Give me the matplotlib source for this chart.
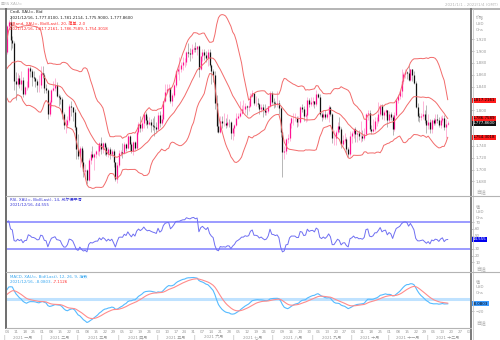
import numpy as np
import pandas as pd
import matplotlib
matplotlib.use('Agg')
import matplotlib.pyplot as plt
from matplotlib.lines import Line2D

plt.rcParams['font.family'] = ['DejaVu Sans', 'Noto Sans CJK SC']

W, H = 500, 340

# closes of Oct-Dec 2020, only used to warm up the indicators
warmup_closes = [
    1906, 1899, 1913, 1877, 1887, 1894, 1930, 1922, 1891, 1902, 1908, 1899, 1905, 1907, 1924, 1904, 1902, 1902, 1908, 1877, 1868, 1879,
    1895, 1908, 1904, 1949, 1951, 1862, 1877, 1866, 1877, 1888, 1888, 1879, 1872, 1861, 1871, 1837, 1805, 1811, 1812, 1788, 1777,
    1815, 1831, 1841, 1839, 1862, 1870, 1839, 1837, 1839, 1828, 1854, 1864, 1886, 1881, 1872, 1863, 1871, 1877, 1876, 1877, 1878, 1894, 1898,
]

# daily XAU= bid candles, 2021-01-04 .. 2021-12-16 (one row per month)
opens = [
    1898, 1943, 1950, 1918, 1913, 1849, 1844, 1855, 1845, 1851, 1828, 1839, 1840, 1871, 1866, 1856, 1855, 1850, 1842, 1843,
    1863, 1860, 1837, 1834, 1793, 1814, 1834, 1838, 1842, 1825, 1823, 1819, 1794, 1775, 1775, 1784, 1808, 1805, 1797, 1771,
    1734, 1723, 1737, 1713, 1697, 1700, 1683, 1716, 1726, 1722, 1727, 1731, 1731, 1745, 1735, 1745, 1738, 1726, 1734, 1726, 1732, 1712, 1684,
    1707, 1728, 1729, 1728, 1743, 1737, 1756, 1743, 1732, 1746, 1736, 1764, 1777, 1770, 1778, 1793, 1783, 1777, 1780, 1776, 1773, 1771,
    1768, 1792, 1778, 1785, 1815, 1831, 1836, 1837, 1815, 1826, 1843, 1867, 1869, 1869, 1876, 1881, 1881, 1898, 1896, 1895, 1903,
    1906, 1903, 1908, 1870, 1891, 1899, 1893, 1888, 1899, 1877, 1866, 1859, 1812, 1773, 1764, 1782, 1778, 1779, 1776, 1781, 1780, 1761,
    1770, 1776, 1787, 1791, 1796, 1803, 1803, 1808, 1806, 1808, 1824, 1829, 1812, 1812, 1810, 1803, 1806, 1801, 1797, 1799, 1807, 1829,
    1814, 1813, 1810, 1812, 1804, 1763, 1729, 1732, 1752, 1753, 1779, 1787, 1787, 1787, 1781, 1781, 1805, 1803, 1790, 1792, 1818, 1810,
    1814, 1815, 1810, 1827, 1823, 1794, 1788, 1794, 1788, 1794, 1805, 1794, 1754, 1754, 1764, 1774, 1768, 1743, 1750, 1751, 1734, 1726,
    1757, 1761, 1769, 1760, 1762, 1756, 1757, 1754, 1760, 1793, 1796, 1768, 1765, 1769, 1782, 1782, 1793, 1807, 1792, 1798, 1800,
    1783, 1793, 1788, 1769, 1792, 1818, 1825, 1832, 1850, 1862, 1865, 1863, 1851, 1869, 1859, 1846, 1805, 1790, 1789, 1791, 1793, 1784,
    1775, 1781, 1769, 1783, 1779, 1785, 1783, 1775, 1783, 1787, 1771, 1777.01,
]
highs = [
    1944, 1952, 1959, 1926, 1917, 1864, 1863, 1860, 1866, 1856, 1841, 1850, 1873, 1875, 1870, 1867, 1857, 1853, 1859, 1875,
    1875, 1863, 1845, 1836, 1818, 1836, 1849, 1855, 1848, 1828, 1826, 1823, 1797, 1786, 1790, 1811, 1816, 1806, 1802, 1774,
    1760, 1740, 1739, 1733, 1709, 1701, 1719, 1731, 1739, 1728, 1733, 1741, 1747, 1755, 1746, 1746, 1742, 1738, 1738, 1734, 1734, 1713, 1713,
    1733, 1733, 1744, 1746, 1745, 1759, 1758, 1746, 1748, 1749, 1766, 1781, 1790, 1784, 1797, 1798, 1790, 1789, 1786, 1787, 1790, 1780,
    1798, 1799, 1793, 1816, 1844, 1845, 1844, 1839, 1830, 1845, 1868, 1875, 1890, 1882, 1890, 1889, 1900, 1913, 1906, 1912, 1909,
    1916, 1909, 1910, 1892, 1903, 1903, 1900, 1903, 1903, 1878, 1870, 1866, 1826, 1795, 1790, 1791, 1795, 1787, 1794, 1785, 1782, 1771,
    1777, 1795, 1796, 1815, 1809, 1818, 1812, 1809, 1815, 1829, 1834, 1830, 1825, 1821, 1812, 1810, 1810, 1810, 1804, 1808, 1832, 1832,
    1821, 1815, 1832, 1817, 1806, 1764, 1740, 1754, 1760, 1781, 1789, 1795, 1795, 1791, 1790, 1808, 1810, 1807, 1796, 1823, 1820, 1822,
    1823, 1816, 1834, 1829, 1827, 1797, 1800, 1801, 1797, 1809, 1808, 1796, 1767, 1767, 1780, 1788, 1771, 1758, 1762, 1755, 1738, 1765,
    1765, 1770, 1772, 1765, 1767, 1782, 1766, 1770, 1796, 1801, 1800, 1775, 1785, 1788, 1789, 1814, 1810, 1810, 1801, 1803, 1801,
    1799, 1797, 1792, 1797, 1819, 1828, 1833, 1869, 1865, 1870, 1867, 1877, 1870, 1870, 1866, 1849, 1812, 1795, 1796, 1815, 1800, 1809,
    1793, 1785, 1786, 1787, 1793, 1793, 1789, 1791, 1792, 1792, 1785, 1781.2114,
]
lows = [
    1895, 1935, 1902, 1905, 1835, 1817, 1841, 1837, 1835, 1822, 1826, 1834, 1837, 1857, 1841, 1850, 1840, 1831, 1831, 1838,
    1855, 1830, 1829, 1785, 1791, 1806, 1832, 1833, 1823, 1808, 1811, 1786, 1768, 1761, 1770, 1780, 1790, 1782, 1767, 1717,
    1718, 1705, 1711, 1687, 1687, 1676, 1681, 1709, 1719, 1699, 1719, 1725, 1723, 1727, 1728, 1724, 1723, 1721, 1718, 1722, 1705, 1680, 1677,
    1705, 1723, 1720, 1726, 1732, 1735, 1731, 1728, 1725, 1733, 1735, 1760, 1764, 1765, 1770, 1776, 1770, 1775, 1764, 1767, 1756, 1763,
    1767, 1771, 1776, 1782, 1814, 1828, 1822, 1813, 1808, 1823, 1840, 1862, 1852, 1865, 1868, 1873, 1877, 1890, 1884, 1889, 1898,
    1898, 1893, 1856, 1868, 1883, 1885, 1881, 1875, 1874, 1845, 1848, 1802, 1764, 1761, 1761, 1770, 1774, 1770, 1772, 1772, 1751, 1750,
    1757, 1774, 1785, 1789, 1793, 1795, 1796, 1792, 1799, 1806, 1822, 1809, 1808, 1806, 1794, 1797, 1789, 1792, 1792, 1795, 1805, 1810,
    1804, 1806, 1806, 1794, 1755, 1687, 1718, 1727, 1744, 1749, 1770, 1775, 1782, 1772, 1774, 1778, 1797, 1782, 1780, 1782, 1806, 1808,
    1807, 1804, 1808, 1820, 1791, 1782, 1786, 1785, 1785, 1781, 1791, 1745, 1742, 1742, 1760, 1764, 1737, 1740, 1746, 1726, 1721, 1723,
    1745, 1754, 1747, 1746, 1750, 1746, 1749, 1750, 1758, 1784, 1765, 1760, 1763, 1765, 1774, 1778, 1790, 1785, 1783, 1790, 1772,
    1780, 1783, 1758, 1765, 1790, 1813, 1819, 1823, 1845, 1855, 1853, 1849, 1850, 1850, 1845, 1804, 1782, 1781, 1784, 1785, 1778, 1762,
    1769, 1762, 1762, 1776, 1776, 1778, 1772, 1770, 1780, 1766, 1753, 1775.90,
]
closes = [
    1943, 1950, 1918, 1913, 1849, 1844, 1855, 1845, 1851, 1828, 1839, 1840, 1871, 1866, 1856, 1855, 1850, 1842, 1843, 1863,
    1860, 1837, 1834, 1793, 1814, 1834, 1838, 1842, 1825, 1823, 1819, 1794, 1775, 1775, 1784, 1808, 1805, 1797, 1771, 1734,
    1723, 1737, 1713, 1697, 1700, 1683, 1716, 1726, 1722, 1727, 1731, 1731, 1745, 1735, 1745, 1738, 1726, 1734, 1726, 1732, 1712, 1684, 1707,
    1728, 1729, 1728, 1743, 1737, 1756, 1743, 1732, 1746, 1736, 1764, 1777, 1770, 1778, 1793, 1783, 1777, 1780, 1776, 1773, 1771, 1768,
    1792, 1778, 1785, 1815, 1831, 1836, 1837, 1815, 1826, 1843, 1867, 1869, 1869, 1876, 1881, 1881, 1898, 1896, 1895, 1903, 1906,
    1903, 1908, 1870, 1891, 1899, 1893, 1888, 1899, 1877, 1866, 1859, 1812, 1773, 1764, 1782, 1778, 1779, 1776, 1781, 1780, 1761, 1770,
    1776, 1787, 1791, 1796, 1803, 1803, 1808, 1806, 1808, 1824, 1829, 1812, 1812, 1810, 1803, 1806, 1801, 1797, 1799, 1807, 1829, 1814,
    1813, 1810, 1812, 1804, 1763, 1729, 1732, 1752, 1753, 1779, 1787, 1787, 1787, 1781, 1781, 1805, 1803, 1790, 1792, 1818, 1810, 1814,
    1815, 1810, 1827, 1823, 1794, 1788, 1794, 1788, 1794, 1805, 1794, 1754, 1754, 1764, 1774, 1768, 1743, 1750, 1751, 1734, 1726, 1757,
    1761, 1769, 1760, 1762, 1756, 1757, 1754, 1760, 1793, 1796, 1768, 1765, 1769, 1782, 1782, 1793, 1807, 1792, 1798, 1800, 1783,
    1793, 1788, 1769, 1792, 1818, 1825, 1832, 1850, 1862, 1865, 1863, 1851, 1869, 1859, 1846, 1805, 1790, 1789, 1791, 1793, 1784, 1775,
    1781, 1769, 1783, 1779, 1785, 1783, 1775, 1783, 1787, 1771, 1777.01, 1777.86,
]

# last values shown in the right-hand boxes
bb_last = [1817.2161, 1786.7589, 1754.3018]
close_last = 1777.86
rsi_last = 44.555
macd_last = [-8.0803, -7.1126]

# tick labels left visible beside the value boxes
price_ticks = [1680, 1700, 1720, 1740, 1800, 1840, 1860, 1880, 1900, 1920]
rsi_ticks = [10, 20, 30, 50, 60, 70]
macd_ticks = [-20]
month_names = ['一月', '二月', '三月', '四月', '五月', '六月',
               '七月', '八月', '九月', '十月', '十一月', '十二月']

axis_days = pd.bdate_range('2021-01-01', '2022-01-04')
bar_days = pd.bdate_range('2021-01-04', '2021-12-16')
x = axis_days.get_indexer(bar_days)

o = np.array(opens, float)
hi = np.array(highs, float)
lo = np.array(lows, float)
c = np.array(closes, float)

# indicators, as named in the panel titles
allc = pd.Series(warmup_closes + closes, dtype=float)
n0 = len(warmup_closes)
mid = allc.rolling(20).mean()
sd = allc.rolling(20).std(ddof=0)
upper = (mid + 2 * sd).values[n0:]
lower = (mid - 2 * sd).values[n0:]
mid = mid.values[n0:]
d = allc.diff()
ag = d.clip(lower=0).ewm(alpha=1 / 14, adjust=False).mean()
al = (-d.clip(upper=0)).ewm(alpha=1 / 14, adjust=False).mean()
rsi = (100 - 100 / (1 + ag / al)).values[n0:]
macd = allc.ewm(span=12, adjust=False).mean() - allc.ewm(span=26, adjust=False).mean()
signal = macd.ewm(span=9, adjust=False).mean()
macd = macd.values[n0:]
signal = signal.values[n0:]

fig = plt.figure(figsize=(5, 3.4), dpi=100)
L, R = 6, 471
FS = 2.9
GRAY = '#9a9a9a'


def fx(px):
    return px / W


def fy(py):
    return 1 - py / H


def panel(top, bottom):
    a = fig.add_axes([fx(L), fy(bottom), (R - L) / W, (bottom - top) / H])
    for s in a.spines.values():
        s.set_visible(False)
    a.set_xlim(0.45, 262.1)
    a.yaxis.tick_right()
    a.tick_params(axis='y', length=2, width=0.4, colors=GRAY, labelsize=FS, pad=1)
    a.tick_params(axis='x', length=0, labelbottom=False)
    return a


ax_p = panel(9.5, 196)
ax_r = panel(196, 271)
ax_m = panel(272, 328)

# price panel
up = c >= o
ax_p.vlines(x[up], lo[up], hi[up], color='#ff9acb', lw=0.5)
ax_p.vlines(x[~up], lo[~up], hi[~up], color='#9a9a9a', lw=0.5)
ax_p.vlines(x[up], o[up], c[up], color='#ff1493', lw=0.9)
ax_p.vlines(x[~up], c[~up], o[~up], color='#111111', lw=0.9)
for band in (upper, mid, lower):
    ax_p.plot(x, band, color='#f26b6b', lw=0.7)
ax_p.set_ylim(1655.3, 1970.3)
ax_p.set_yticks(price_ticks)
ax_p.set_yticklabels([f'{v:,}' for v in price_ticks])

# RSI panel
ax_r.axhline(70, color='#8080ff', lw=1.1)
ax_r.axhline(30, color='#8080ff', lw=1.1)
ax_r.plot(x, rsi, color='#6f6ff2', lw=0.7)
ax_r.set_ylim(-3, 109.4)
ax_r.set_yticks(rsi_ticks)

# MACD panel
ax_m.axhline(0, color='#bfe2ff', lw=2.2)
ax_m.plot(x, macd, color='#55bbff', lw=0.8)
ax_m.plot(x, signal, color='#ff8c8c', lw=0.8)
ax_m.set_ylim(-45.4, 40.8)
ax_m.set_yticks(macd_ticks)

# x axis: Mondays and month names
mondays = [i for i, dday in enumerate(axis_days) if dday.weekday() == 0]
ax_m.set_xticks(mondays)
ax_m.set_xticklabels([f'{axis_days[i].day:02d}' for i in mondays])
ax_m.tick_params(axis='x', labelbottom=True, labelsize=FS, colors=GRAY, pad=1.2)
xt = ax_m.get_xaxis_transform()
for m in range(1, 13):
    idx = [i for i, dday in enumerate(axis_days) if dday.year == 2021 and dday.month == m]
    ax_m.text((idx[0] + idx[-1]) / 2, -0.17, f'2021 {month_names[m - 1]}', transform=xt,
              ha='center', va='center', fontsize=FS, color=GRAY, clip_on=False)
    ax_m.text(idx[0] - 0.5, -0.17, '|', transform=xt, ha='center', va='center',
              fontsize=FS + 0.5, color=GRAY, clip_on=False)


# value boxes on the right
def box(a, y, s, fc, tc):
    a.text(1.004, y, s, transform=a.get_yaxis_transform(), ha='left', va='center',
           fontsize=FS, color=tc, clip_on=False, zorder=10,
           bbox=dict(boxstyle='square,pad=0.15', fc=fc, ec='none'))


box(ax_p, bb_last[0], f'{bb_last[0]:,.4f}', '#ff1a1a', 'black')
box(ax_p, bb_last[2], f'{bb_last[2]:,.4f}', '#ff1a1a', 'black')
box(ax_p, bb_last[1], f'{bb_last[1]:,.4f}', '#ff1a1a', 'black')
box(ax_p, close_last, f'{close_last:,.4f}', '#111111', 'white')
box(ax_r, rsi_last, f'{rsi_last:.3f}', '#0000ee', 'white')
box(ax_m, macd_last[1], f'{macd_last[1]:.4f}', '#ff2020', 'black')
box(ax_m, macd_last[0], f'{macd_last[0]:.4f}', '#3d9bff', 'black')


# panel captions
def caption(py, s, color):
    return fig.text(fx(10), fy(py), s, fontsize=FS, color=color, va='center', ha='left')


caption(12.3, 'Cndl, XAU=, Bid', '#222222')
caption(17.6, '2021/12/16, 1,777.0100, 1,781.2114, 1,775.9000, 1,777.8600', '#222222')
caption(23.8, 'BBand, XAU=, Bid(Last), 20, 简单, 2.0', '#ff2a2a')
caption(29.0, '2021/12/16, 1,817.2161, 1,786.7589, 1,754.3018', '#ff2a2a')
caption(199.6, 'RSI, XAU=, Bid(Last), 14, 威尔德平滑', '#3a3ad8')
caption(205.0, '2021/12/16, 44.555', '#3a3ad8')
caption(276.8, 'MACD, XAU=, Bid(Last), 12, 26, 9, 指数', '#3aa8f0')
t = caption(282.2, '2021/12/16, -8.0803, ', '#3aa8f0')
ax_m.annotate('-7.1126', xy=(1, 0.5), xycoords=t, va='center', ha='left',
              fontsize=FS, color='#ff3030', annotation_clip=False)

# unit labels and auto-fit buttons on the right
for py, s in [(17.7, '价格'), (24, 'USD'), (30, 'Ons'),
              (206, '值'), (212, 'USD'), (218, 'Ons'),
              (281, '值'), (287.5, 'USD'), (293.5, 'Ons')]:
    fig.text(fx(476), fy(py), s, fontsize=FS, color=GRAY, va='center')
for py in (193, 270, 324):
    fig.text(fx(476), fy(py), '自适', fontsize=FS + 0.6, color='#b0b0b0', va='center')

# header
fig.text(fx(1), fy(4), '曲线 XAU=', fontsize=FS, color='#b5b5b5', va='center')
fig.text(fx(498), fy(4.5), '2021/1/1 - 2022/1/4 (GMT)', fontsize=FS, color='#b5b5b5',
         va='center', ha='right')


# frame lines
def line(x0, y0, x1, y1, color, lw):
    fig.add_artist(Line2D([fx(x0), fx(x1)], [fy(y0), fy(y1)], color=color, lw=lw,
                          transform=fig.transFigure))


line(0, 8.5, 500, 8.5, '#a8a8a8', 1.2)
line(L, 9, L, 328, '#6e6e6e', 1.4)
line(R, 9, R, 340, '#7a7a7a', 1.4)
line(R + 1.5, 9, R + 1.5, 340, '#c8c8c8', 0.6)
line(L, 196, 500, 196, '#b4b4b4', 0.8)
line(L, 271.5, 500, 271.5, '#b4b4b4', 0.8)
line(L, 328, R, 328, '#b4b4b4', 0.8)

fig.savefig('out.png', dpi=100)
